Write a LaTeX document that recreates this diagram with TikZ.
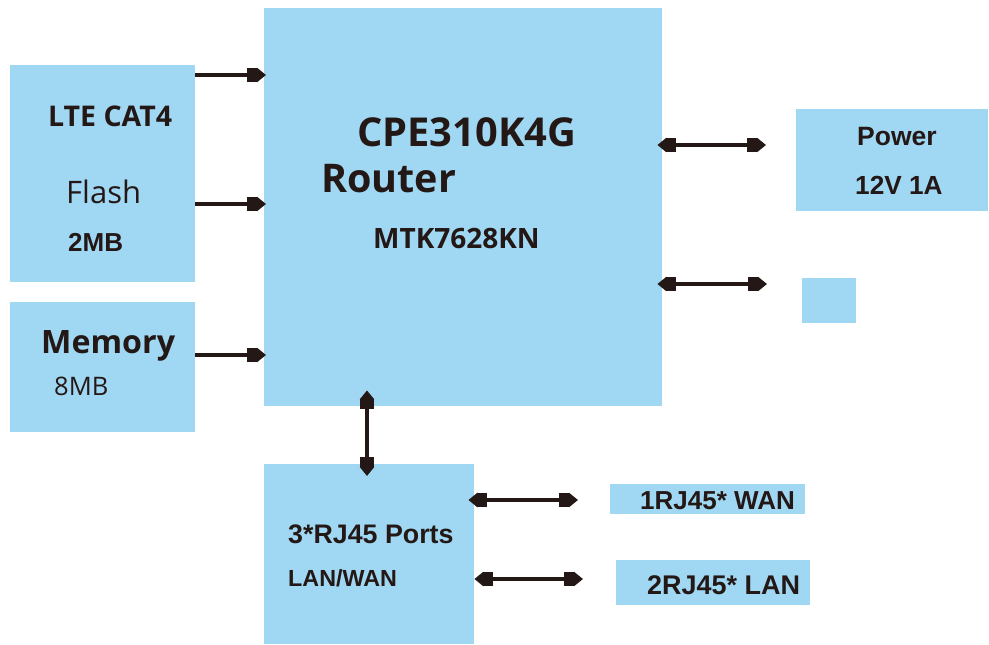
\documentclass[tikz,border=0pt]{standalone}
\usepackage{fontspec}
\setmainfont{Liberation Sans}
\newfontfamily\osans{Open Sans}
\newfontfamily\lsans{Liberation Sans}
\usetikzlibrary{arrows.meta}
\definecolor{boxblue}{RGB}{160,216,244}
\definecolor{ink}{RGB}{35,24,21}
\tikzset{
  ptip/.tip={Rectangle[length=10pt,width=14pt,sep=0pt]Triangle[length=9pt,width=14pt]},
  blk/.style={anchor=north west, fill=boxblue, draw=none, inner sep=0pt},
  lbl/.style={anchor=base west, inner sep=0pt, text=ink},
  arr/.style={draw=ink, line width=3.6pt, -ptip},
  darr/.style={draw=ink, line width=3.6pt, ptip-ptip},
}
\newcommand{\fsz}[1]{\fontsize{#1}{#1}\selectfont}
\begin{document}
\begin{tikzpicture}[x=1pt,y=-1pt]
\useasboundingbox (0,0) rectangle (989,645);
% boxes
\node[blk, minimum width=398pt, minimum height=398pt] (main) at (264,8) {};
\node[blk, minimum width=185pt, minimum height=217pt] (lte) at (10,65) {};
\node[blk, minimum width=185pt, minimum height=130pt] (mem) at (10,302) {};
\node[blk, minimum width=192pt, minimum height=102pt] (pwr) at (796,109) {};
\node[blk, minimum width=54pt, minimum height=45pt] (sq) at (802,278) {};
\node[blk, minimum width=210pt, minimum height=180pt] (rj) at (264,464) {};
\node[blk, minimum width=195pt, minimum height=30pt] (wan) at (610,484) {};
\node[blk, minimum width=194pt, minimum height=45pt] (lan) at (616,560) {};
% texts
\node[lbl] (t1) at (357,146) {\osans\bfseries\fsz{39.8}CPE310K4G};
\node[lbl] (t2) at (321,192) {\osans\bfseries\fsz{39.5}Router};
\node[lbl] (t3) at (373,248) {\osans\bfseries\fsz{28}MTK7628KN};
\node[lbl] (t4) at (48,126) {\osans\bfseries\fsz{28.5}LTE CAT4};
\node[lbl] (t5) at (66,203) {\osans\fsz{31}Flash};
\node[lbl] (t6) at (68,251) {\lsans\bfseries\fsz{26}2MB};
\node[lbl] (t7) at (41,353) {\osans\bfseries\fsz{32.2}Memory};
\node[lbl] (t8) at (54,395) {\osans\fsz{25.5}8MB};
\node[lbl] (t9) at (288,543) {\lsans\bfseries\fsz{26.8}3*RJ45 Ports};
\node[lbl] (t10) at (288,586) {\lsans\bfseries\fsz{23.3}LAN/WAN};
\node[lbl] (t11) at (857,145) {\lsans\bfseries\fsz{26.5}Power};
\node[lbl] (t12) at (855,194) {\lsans\bfseries\fsz{26.2}12V 1A};
\node[lbl] (t13) at (640,509) {\lsans\bfseries\fsz{26}1RJ45* WAN};
\node[lbl] (t14) at (647,594) {\lsans\bfseries\fsz{27}2RJ45* LAN};
% anchor coordinates for connectors
\path ([yshift=-10pt]lte.north east) coordinate (a1);
\path ([yshift=-139pt]lte.north east) coordinate (a2);
\path ([yshift=-53pt]mem.north east) coordinate (a3);
\path ([yshift=-137pt]main.north east) coordinate (b1);
\path ([xshift=-30pt]b1 -| pwr.west) coordinate (b1e);
\path ([yshift=-276pt]main.north east) coordinate (b2);
\path ([xshift=-35pt]b2 -| sq.west) coordinate (b2e);
\path ([xshift=103pt]main.south west) coordinate (c1);
\path ([yshift=-36pt]rj.north east) coordinate (d1);
\path ([xshift=-32pt]d1 -| wan.west) coordinate (d1e);
\path ([yshift=-115pt]rj.north east) coordinate (d2);
\path ([xshift=-33pt]d2 -| lan.west) coordinate (d2e);
% connectors
\draw[arr, shorten >=-2pt] (a1) -- (a1 -| main.west);
\draw[arr, shorten >=-2pt] (a2) -- (a2 -| main.west);
\draw[arr, shorten >=-2pt] (a3) -- (a3 -| main.west);
\draw[darr, shorten <=-5pt] (b1) -- (b1e);
\draw[darr, shorten <=-5pt] (b2) -- (b2e);
\draw[darr, shorten <=-16pt, shorten >=-12pt] (c1) -- (c1 |- rj.north);
\draw[darr, shorten <=-6pt] (d1) -- (d1e);
\draw[darr] (d2) -- (d2e);
\end{tikzpicture}
\end{document}
